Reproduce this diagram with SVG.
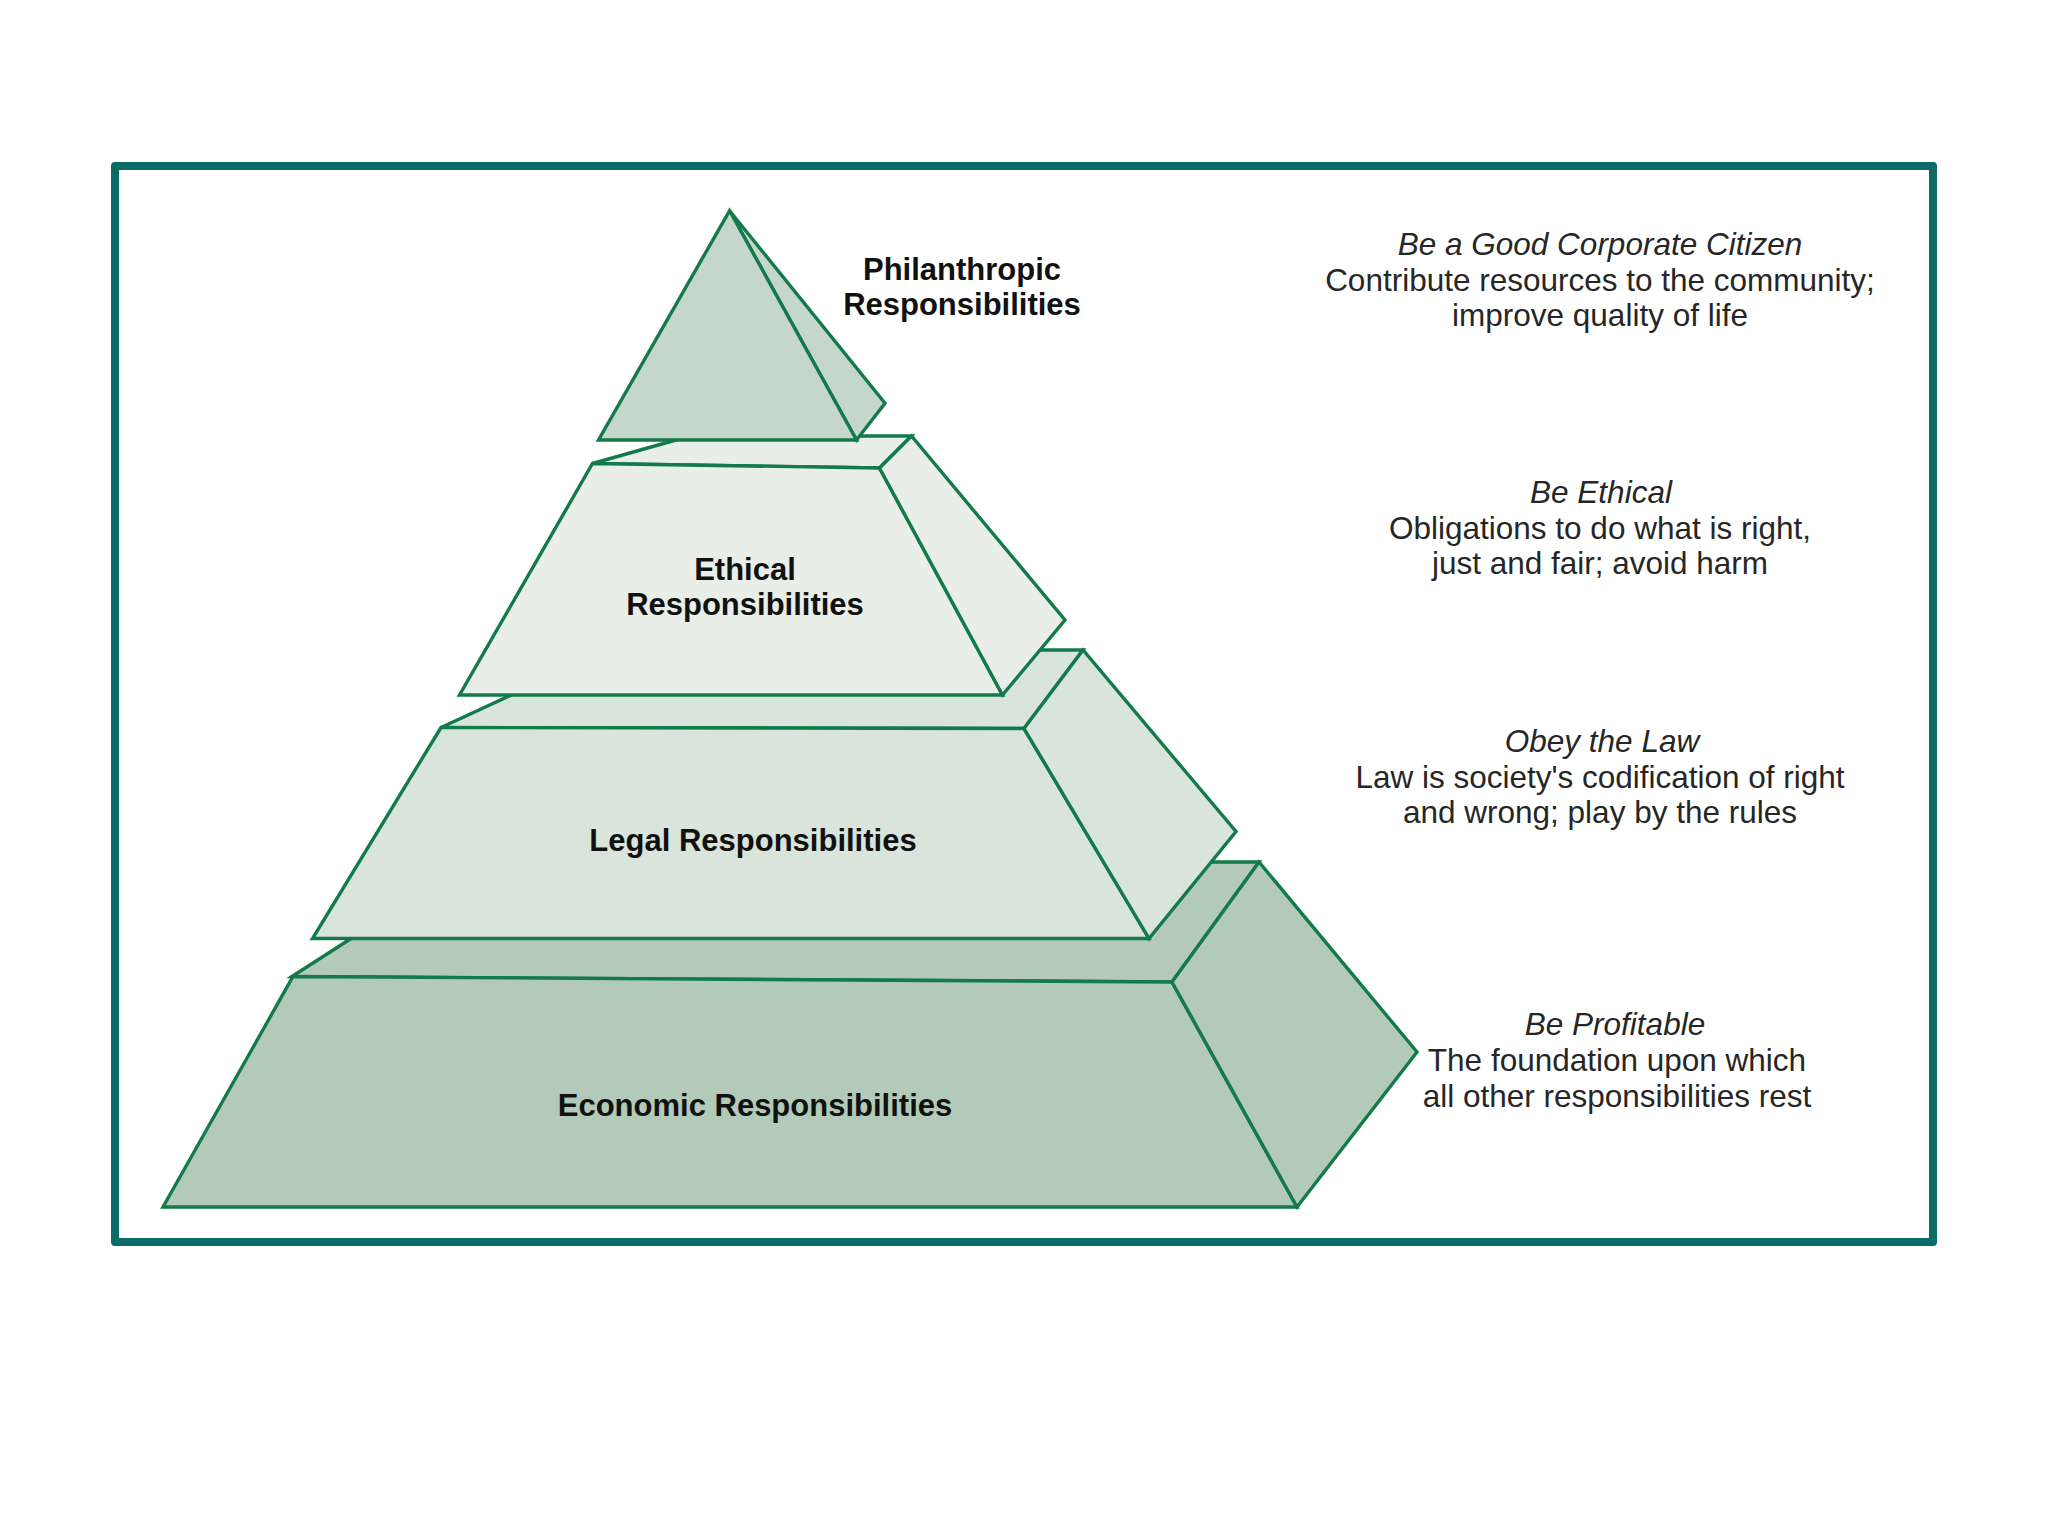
<svg xmlns="http://www.w3.org/2000/svg" width="2048" height="1536" viewBox="0 0 2048 1536">
<style>
.face{stroke:#137a4a;stroke-width:3.4;stroke-linejoin:miter}
.eco{fill:#b3cab8}
.leg{fill:#d9e4da}
.eth{fill:#e9eee9}
.phi{fill:#c5d7ca}
.lbl{font-family:"Liberation Sans",Arial,sans-serif;font-weight:bold;font-size:31px;fill:#111;text-anchor:middle}
.desc{font-family:"Liberation Sans",Arial,sans-serif;font-size:31.5px;fill:#262626;text-anchor:middle}
.ttl{font-style:italic}
</style>
<rect width="2048" height="1536" fill="#ffffff"/>
<rect id="frame" x="115" y="166" width="1818" height="1076" fill="#ffffff" stroke="#0b6b66" stroke-width="8" stroke-linejoin="round"/>
<g id="economic">
<polygon class="face eco" points="292,976.5 470,862 1259,862 1172,982"/>
<polygon class="face eco" points="293,976.5 1172,982 1297,1207 163,1207"/>
<polygon class="face eco" points="1172,982 1259,862 1417,1052 1297,1207"/>
<text class="lbl" x="755" y="1116">Economic Responsibilities</text>
</g>
<g id="legal">
<polygon class="face leg" points="441,727.5 609,650 1083,650 1024,728.5"/>
<polygon class="face leg" points="441,727.5 1024,728.5 1149,938.5 312.5,938.5"/>
<polygon class="face leg" points="1024,728.5 1083,650 1236,831.5 1149,938.5"/>
<text class="lbl" x="753" y="850.5">Legal Responsibilities</text>
</g>
<g id="ethical">
<polygon class="face eth" points="592.5,463.5 690,436 911.5,436 879.5,468"/>
<polygon class="face eth" points="592.5,463.5 879.5,468 1002.5,695 459.5,695"/>
<polygon class="face eth" points="879.5,468 911.5,436 1065,620 1002.5,695"/>
<text class="lbl" x="745" y="580">Ethical</text>
<text class="lbl" x="745" y="615">Responsibilities</text>
</g>
<g id="philanthropic">
<polygon class="face phi" points="729.6,210.7 885,403.3 856.5,440"/>
<polygon class="face phi" points="729.6,210.7 856.5,440 598.5,440"/>
<text class="lbl" x="962" y="280">Philanthropic</text>
<text class="lbl" x="962" y="315">Responsibilities</text>
</g>
<g id="desc-philanthropic">
<text class="desc ttl" x="1600" y="255">Be a Good Corporate Citizen</text>
<text class="desc" x="1600" y="290.5">Contribute resources to the community;</text>
<text class="desc" x="1600" y="326">improve quality of life</text>
</g>
<g id="desc-ethical">
<text class="desc ttl" x="1601" y="503">Be Ethical</text>
<text class="desc" x="1600" y="538.5">Obligations to do what is right,</text>
<text class="desc" x="1600" y="574">just and fair; avoid harm</text>
</g>
<g id="desc-legal">
<text class="desc ttl" x="1602" y="752">Obey the Law</text>
<text class="desc" x="1600" y="788">Law is society's codification of right</text>
<text class="desc" x="1600" y="823">and wrong; play by the rules</text>
</g>
<g id="desc-economic">
<text class="desc ttl" x="1615" y="1035">Be Profitable</text>
<text class="desc" x="1617" y="1071">The foundation upon which</text>
<text class="desc" x="1617" y="1106.5">all other responsibilities rest</text>
</g>
<g id="connectors"/>
</svg>
